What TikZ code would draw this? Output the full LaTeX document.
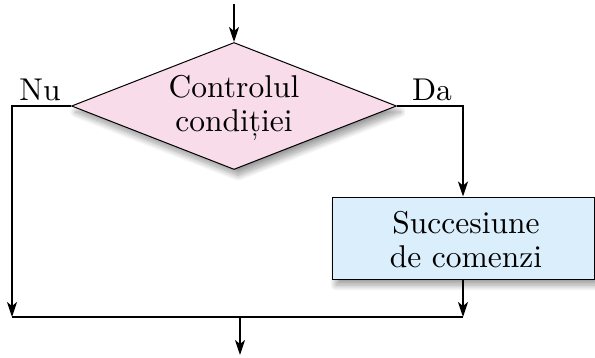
\documentclass[tikz,border=0pt]{standalone}
\usepackage{fontspec}
\setmainfont{lmroman10-regular}[Extension=.otf]
\usetikzlibrary{shapes.geometric,arrows.meta,shadows.blur}
\definecolor{pinkfill}{RGB}{249,220,234}
\definecolor{bluefill}{RGB}{219,238,251}
\begin{document}
\begin{tikzpicture}[x=1pt,y=-1pt,
  line width=1.8pt,
  arr/.style={-{Stealth[length=15pt,width=10pt,inset=4pt]}},
  txt/.style={font=\fontsize{31.5}{34}\selectfont},
  shad/.style={blur shadow={shadow xshift=4pt,shadow yshift=-6pt,shadow blur radius=6pt,shadow blur steps=12,shadow opacity=40}},
  decision/.style={diamond,draw,line width=1pt,fill=pinkfill,aspect=2.55,inner sep=0pt,
    minimum width=325pt,minimum height=127pt,shad},
  process/.style={rectangle,draw,line width=1pt,fill=bluefill,inner sep=0pt,
    minimum width=262pt,minimum height=82pt,shad},
  body/.style={txt,align=center,inner sep=0pt},
  lbl/.style={txt,anchor=base,inner sep=0pt}]
\useasboundingbox (0,0) rectangle (595,357);
\node[decision] (d) at (234,106) {};
\node[body] (dt) at (234,108) {Controlul\\condiției};
\node[process] (p) at (463,238) {};
\node[body] (pt) at (466,240) {Succesiune\\de comenzi};
\coordinate (top) at (234,4);
\coordinate (bl) at (12,317);
\coordinate (br) at (463,317);
\coordinate (bm) at (240,317);
\coordinate (out) at (240,355);
\node[lbl] (nu) at (40,100) {Nu};
\node[lbl] (da) at (432,100) {Da};
\draw[arr] (top) -- (d.north);
\draw[arr] (d.west) -| (bl);
\draw[arr] (d.east) -| (p.north);
\draw[arr] (p.south) -- (br);
\draw (bl) -- (br);
\draw[arr] (bm) -- (out);
\end{tikzpicture}
\end{document}
